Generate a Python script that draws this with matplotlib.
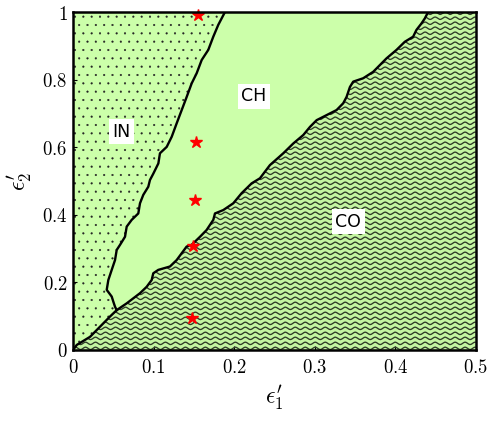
import numpy as np
import matplotlib
matplotlib.use("Agg")
import matplotlib.pyplot as plt
from matplotlib.patches import Polygon

plt.rcParams["mathtext.fontset"] = "cm"
plt.rcParams["hatch.linewidth"] = 0.3

# boundary IN / CH  (from the triple point up to the top edge)
in_ch_x = [0.0542, 0.0521, 0.0500, 0.0480, 0.0418, 0.0438, 0.0480, 0.0521, 0.0542,
           0.0583, 0.0645, 0.0666, 0.0728, 0.0810, 0.0831, 0.0872, 0.0934, 0.0955,
           0.0997, 0.1059, 0.1079, 0.1163, 0.1225, 0.1287, 0.1349, 0.1411, 0.1473,
           0.1535, 0.1597, 0.1679, 0.1741, 0.1803, 0.1886]
in_ch_y = [0.118, 0.128, 0.143, 0.158, 0.178, 0.207, 0.237, 0.266, 0.296,
           0.311, 0.335, 0.365, 0.385, 0.404, 0.434, 0.459, 0.483, 0.503,
           0.522, 0.552, 0.582, 0.601, 0.631, 0.671, 0.710, 0.749, 0.789,
           0.819, 0.858, 0.888, 0.927, 0.962, 1.0]

# boundary IN / CO  (origin to triple point)
in_co_x = [0.0, 0.0046, 0.0211, 0.0335, 0.0459, 0.0542]
in_co_y = [0.0, 0.015, 0.039, 0.069, 0.099, 0.118]

# boundary CH / CO  (triple point up to the top edge)
ch_co_x = [0.0542, 0.0666, 0.0831, 0.0914, 0.0976, 0.0996, 0.1058, 0.1203, 0.1286,
           0.1348, 0.1410, 0.1472, 0.1576, 0.1658, 0.1741, 0.1762, 0.1865, 0.1989,
           0.2093, 0.2217, 0.2320, 0.2444, 0.2610, 0.2734, 0.2858, 0.2941, 0.3024,
           0.3148, 0.3272, 0.3354, 0.3396, 0.3437, 0.3478, 0.3602, 0.3726, 0.3809,
           0.3892, 0.4016, 0.4119, 0.4222, 0.4263, 0.4325, 0.4367, 0.4408]
ch_co_y = [0.118, 0.138, 0.168, 0.187, 0.207, 0.227, 0.237, 0.247, 0.266,
           0.286, 0.306, 0.311, 0.335, 0.355, 0.385, 0.404, 0.414, 0.434,
           0.464, 0.493, 0.508, 0.547, 0.582, 0.611, 0.636, 0.660, 0.680,
           0.695, 0.710, 0.730, 0.749, 0.778, 0.794, 0.804, 0.823, 0.843,
           0.863, 0.888, 0.912, 0.927, 0.947, 0.966, 0.981, 1.0]

star_x = [0.1555, 0.1526, 0.1514, 0.1493, 0.1472]
star_y = [0.991, 0.616, 0.444, 0.309, 0.094]

labels = ["IN", "CH", "CO"]
label_x = [0.0604, 0.2246, 0.3416]
label_y = [0.646, 0.751, 0.380]

xticks = [0, 0.1, 0.2, 0.3, 0.4, 0.5]
yticks = [0, 0.2, 0.4, 0.6, 0.8, 1]

fill = "#ccffaa"

fig = plt.figure(figsize=(4.87, 4.23), dpi=100)
ax = fig.add_axes([0.150, 0.1726, 0.827, 0.799])
ax.set_xlim(0, 0.5)
ax.set_ylim(0, 1)

in_poly = list(zip(in_co_x, in_co_y)) + list(zip(in_ch_x, in_ch_y)) + [(0, 1)]
ch_poly = list(zip(in_ch_x, in_ch_y)) + list(zip(ch_co_x[::-1], ch_co_y[::-1]))
co_poly = list(zip(in_co_x, in_co_y)) + list(zip(ch_co_x, ch_co_y)) + [(0.5, 1), (0.5, 0)]

ax.add_patch(Polygon(in_poly, closed=True, facecolor=fill, edgecolor="#222222",
                     hatch="..", lw=0, zorder=1))
ax.add_patch(Polygon(ch_poly, closed=True, facecolor=fill, lw=0, zorder=1))
co_patch = Polygon(co_poly, closed=True, facecolor="#c4f5a2", lw=0, zorder=1)
ax.add_patch(co_patch)

# wavy texture for the CO region
wx = np.linspace(0, 0.5, 800)
for y0 in np.arange(-0.01, 1.02, 0.0148):
    wl, = ax.plot(wx, y0 + 0.0035 * np.sin(2 * np.pi * wx / 0.0124),
                  color="#2e3a28", lw=0.95, zorder=2)
    wl.set_clip_path(co_patch)

ax.plot(in_ch_x, in_ch_y, color="black", lw=1.7, zorder=3)
ax.plot(in_co_x, in_co_y, color="black", lw=1.7, zorder=3)
ax.plot(ch_co_x, ch_co_y, color="black", lw=1.7, zorder=3)

ax.plot(star_x, star_y, linestyle="none", marker="*", color="red", ms=9, zorder=5,
        clip_on=False)

for t, x, y in zip(labels, label_x, label_y):
    ax.text(x, y, t, fontsize=12.5, ha="center", va="center", zorder=6,
            bbox=dict(facecolor="white", edgecolor="none", pad=2.5))

for s in ax.spines.values():
    s.set_linewidth(1.8)
    s.set_zorder(7)

ax.set_xticks(xticks)
ax.set_yticks(yticks)
ax.set_xticklabels(["$%g$" % v for v in xticks])
ax.set_yticklabels(["$%g$" % v for v in yticks])
ax.tick_params(direction="in", length=3, labelsize=13.5)
ax.tick_params(axis="x", pad=6)
ax.tick_params(axis="y", pad=4)

ax.set_xlabel(r"$\epsilon_1'$", fontsize=17, labelpad=4)
ax.set_ylabel(r"$\epsilon_2'$", fontsize=17, labelpad=6)

fig.savefig("out.png", dpi=100)
